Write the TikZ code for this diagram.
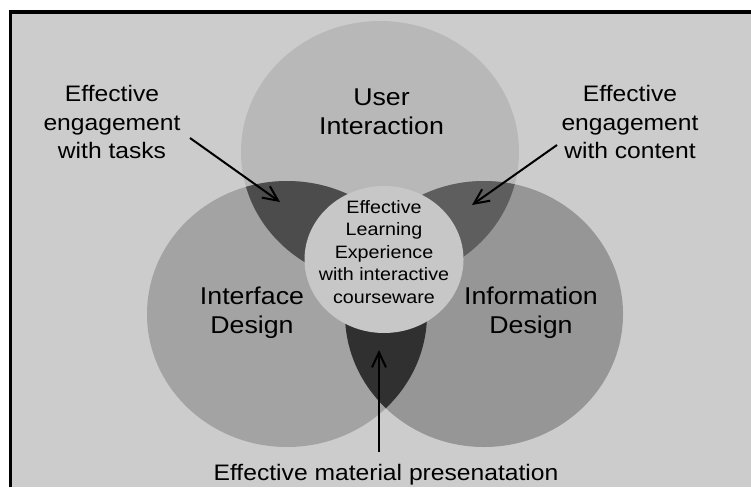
\documentclass[tikz,border=0pt]{standalone}
\usepackage{fontspec}
\setmainfont[FakeStretch=1.1]{Liberation Sans}
\usetikzlibrary{arrows.meta,positioning}
\definecolor{bggray}{gray}{0.80}
\definecolor{usergray}{gray}{0.72}
\definecolor{ifacegray}{gray}{0.64}
\definecolor{infogray}{gray}{0.59}
\definecolor{taskgray}{gray}{0.30}
\definecolor{contentgray}{gray}{0.37}
\definecolor{materialgray}{gray}{0.19}
\definecolor{coregray}{gray}{0.78}
\tikzset{
sidelabel/.style={
  align=center,
  inner sep=0pt,
  anchor=base,
  font=\fontsize{22.4}{28.5}\selectfont
  },
biglabel/.style={
  align=center,
  inner sep=0pt,
  anchor=base,
  font=\fontsize{24.3}{29}\selectfont
  },
corelabel/.style={
  align=center,
  inner sep=0pt,
  anchor=base,
  font=\fontsize{17.9}{22.5}\selectfont
  },
pointer/.style={->, line width=2pt}
}

\begin{document}
\begin{tikzpicture}[x=1pt,y=-1pt,>={Straight Barb[length=15pt,width=14pt]}]
\useasboundingbox (0,0) rectangle (751,487);
% frame
\fill[bggray] (8.6,10.5) rectangle (751,487);
\draw[line width=3.8pt] (10.5,487) |- (751,12.4);
% three circles
\fill[usergray] (380,152) ellipse (139 and 131);
\fill[ifacegray] (287,314) ellipse (140 and 133);
\fill[infogray] (484,314) ellipse (139 and 133);
% overlaps
\begin{scope}
  \clip (380,152) ellipse (139 and 131);
  \fill[taskgray] (287,314) ellipse (140 and 133);
  \fill[contentgray] (484,314) ellipse (139 and 133);
\end{scope}
\begin{scope}
  \clip (287,314) ellipse (140 and 133);
  \fill[materialgray] (484,314) ellipse (139 and 133);
\end{scope}
\fill[coregray] (384,259.5) ellipse (79.5 and 73.5);

% labels (base = last line)
\node[biglabel] (user) at (381.5,134.5) {User\\Interaction};
\node[biglabel] (iface) at (252,333) {Interface\\Design};
\node[biglabel] (info) at (531,333) {Information\\Design};
\node[corelabel] (core) at (384,303)
  {Effective\\Learning\\Experience\\with interactive\\courseware};
\node[sidelabel] (tasks) at (112,158.5) {Effective\\engagement\\with tasks};
\node[sidelabel] (content) at (630,158.5) {Effective\\engagement\\with content};
\node[sidelabel] (material) at (386,480.5) {Effective material presenatation};

% arrows
\coordinate (tasksTail) at (190,138);
\coordinate (tasksTip) at (280,202);
\coordinate (contentTail) at (557,145);
\coordinate (contentTip) at (472,205);
\coordinate (materialTail) at (379,452);
\coordinate (materialTip) at (379,350);
\draw[pointer] (tasksTail) -- (tasksTip);
\draw[pointer] (contentTail) -- (contentTip);
\draw[pointer] (materialTail) -- (materialTip);
\end{tikzpicture}
\end{document}
